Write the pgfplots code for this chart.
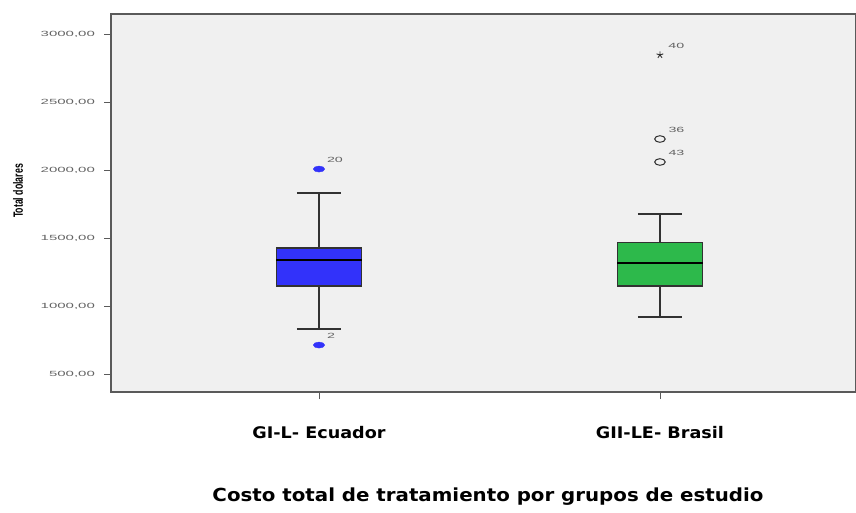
\documentclass[border=0pt]{standalone}
\usepackage{pgfplots}
\pgfplotsset{compat=1.18}
\usetikzlibrary{plotmarks}
\usepackage{fontspec}
\setmainfont{Liberation Sans}
\newfontfamily\dvb{DejaVu Sans}
\definecolor{bgc}{RGB}{240,240,240}
\definecolor{frame}{RGB}{90,90,90}
\definecolor{boxblue}{RGB}{50,50,250}
\definecolor{boxgreen}{RGB}{45,185,75}
\definecolor{darkline}{RGB}{50,50,50}
\definecolor{ticktext}{RGB}{100,100,100}
\begin{document}
\begin{tikzpicture}
\path[use as bounding box] (0pt,0pt) rectangle (856pt,-512pt);
\begin{axis}[
  at={(111pt,-14pt)}, anchor=north west,
  width=745pt, height=378pt, scale only axis,
  xmin=0.39, xmax=2.575,
  ymin=368, ymax=3147,
  axis background/.style={fill=bgc},
  axis line style={frame, line width=1.2pt},
  xtick={1,2}, xticklabels={GI-L- Ecuador, GII-LE- Brasil},
  ytick={500,1000,1500,2000,2500,3000},
  yticklabels={{500,00},{1000,00},{1500,00},{2000,00},{2500,00},{3000,00}},
  tick align=outside,
  major tick length=7pt,
  tick style={frame, line width=0.9pt},
  xtick pos=bottom, ytick pos=left,
  yticklabel style={font=\fontsize{7.5}{8}\selectfont, text=ticktext, xscale=2, anchor=east, xshift=-1pt},
  xticklabel style={font=\dvb\bfseries\fontsize{16}{18}\selectfont, xscale=1.1, text=black, yshift=-24pt},
  clip=false,
]
% Ecuador box
\addplot[fill=boxblue, draw=darkline, line width=1.2pt] coordinates {(0.875,1147) (1.125,1147) (1.125,1426) (0.875,1426)} -- cycle;
\addplot[draw=darkline, line width=1.8pt] coordinates {(1,1426) (1,1830)};
\addplot[draw=darkline, line width=1.8pt] coordinates {(1,1147) (1,831)};
\addplot[draw=darkline, line width=1.3pt] coordinates {(0.935,1830) (1.065,1830)};
\addplot[draw=darkline, line width=1.3pt] coordinates {(0.935,831) (1.065,831)};
\addplot[draw=black, line width=2pt] coordinates {(0.875,1338) (1.125,1338)};
% Brasil box
\addplot[fill=boxgreen, draw=darkline, line width=1.2pt] coordinates {(1.875,1147) (2.125,1147) (2.125,1470) (1.875,1470)} -- cycle;
\addplot[draw=darkline, line width=1.8pt] coordinates {(2,1470) (2,1676)};
\addplot[draw=darkline, line width=1.8pt] coordinates {(2,1147) (2,919)};
\addplot[draw=darkline, line width=1.3pt] coordinates {(1.935,1676) (2.065,1676)};
\addplot[draw=darkline, line width=1.3pt] coordinates {(1.935,919) (2.065,919)};
\addplot[draw=black, line width=2pt] coordinates {(1.875,1316) (2.125,1316)};
% outliers Ecuador
\addplot[only marks, mark=*, mark size=3pt, mark options={fill=boxblue, draw=boxblue, xscale=1.9},
  point meta=explicit symbolic, nodes near coords,
  every node near coord/.append style={anchor=west, font=\fontsize{7.5}{8}\selectfont, text=ticktext, xscale=1.9, xshift=0.7pt, yshift=9pt}]
  coordinates {(1,2007)[20] (1,713)[2]};
% outliers Brasil
\addplot[only marks, mark=o, mark size=3.3pt, mark options={draw=darkline, line width=1pt, xscale=1.6},
  point meta=explicit symbolic, nodes near coords,
  every node near coord/.append style={anchor=west, font=\fontsize{7.5}{8}\selectfont, text=ticktext, xscale=1.9, xshift=0.7pt, yshift=9pt}]
  coordinates {(2,2228)[36] (2,2059)[43]};
\addplot[only marks, mark=star, mark size=3.5pt, mark options={draw=darkline, line width=0.9pt},
  point meta=explicit symbolic, nodes near coords,
  every node near coord/.append style={anchor=west, font=\fontsize{7.5}{8}\selectfont, text=ticktext, xscale=1.9, xshift=0.7pt, yshift=9pt}]
  coordinates {(2,2846)[40]};
\end{axis}
\node[rotate=90, font=\bfseries\fontsize{13.5}{15}\selectfont, xscale=0.65] at (18pt,-191pt) {Total dolares};
\node[font=\dvb\bfseries\fontsize{18}{20}\selectfont, xscale=1.1] at (488pt,-497pt) {Costo total de tratamiento por grupos de estudio};
\end{tikzpicture}
\end{document}
